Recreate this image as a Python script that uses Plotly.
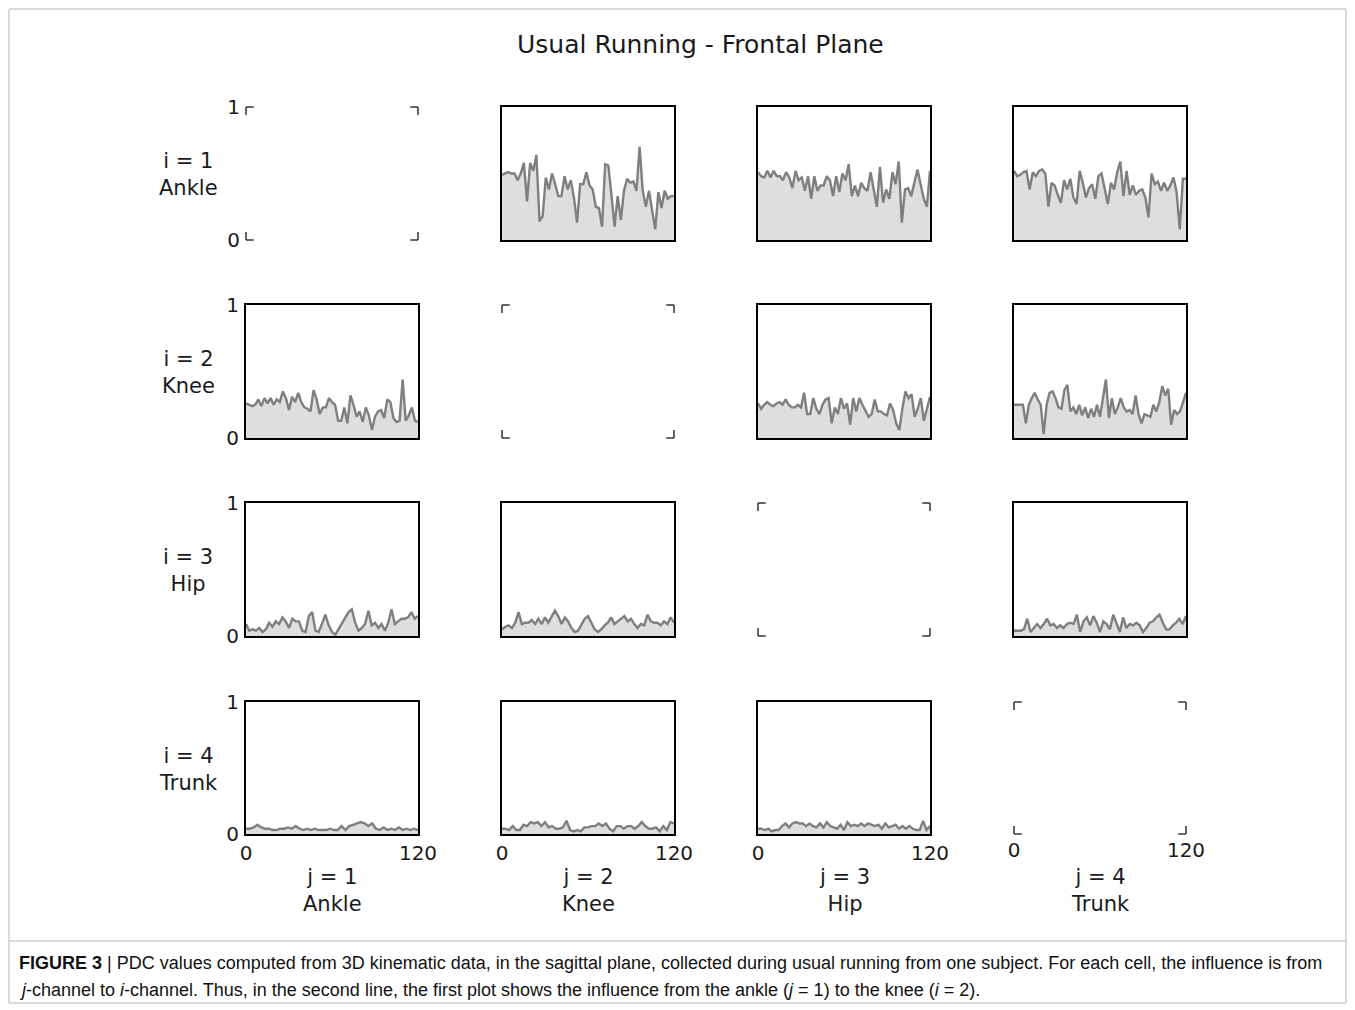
import numpy as np
import plotly.graph_objects as go

# ---------------- data (PDC magnitude, influence from channel j to channel i) ----------------
channels = ["Ankle", "Knee", "Hip", "Trunk"]
freq_ticks = [0, 120]
pdc_ticks = [0, 1]

pdc_i1_j2 = [0.49,0.50,0.51,0.50,0.50,0.45,0.50,0.58,0.29,0.58,0.52,0.64,0.14,0.18,0.47,0.38,0.50,0.42,0.33,0.33,
             0.48,0.38,0.45,0.32,0.13,0.42,0.42,0.51,0.41,0.38,0.25,0.24,0.10,0.57,0.56,0.34,0.10,0.33,0.15,0.37,
             0.46,0.43,0.44,0.37,0.70,0.37,0.25,0.37,0.24,0.08,0.36,0.24,0.37,0.31,0.33,0.33]
pdc_i1_j3 = [0.51,0.48,0.47,0.52,0.47,0.52,0.48,0.48,0.45,0.51,0.47,0.39,0.52,0.45,0.47,0.37,0.48,0.31,0.48,0.37,
             0.41,0.41,0.48,0.45,0.33,0.48,0.36,0.50,0.45,0.57,0.33,0.41,0.33,0.43,0.39,0.37,0.51,0.37,0.25,0.55,
             0.28,0.38,0.31,0.51,0.42,0.59,0.13,0.38,0.39,0.33,0.43,0.53,0.42,0.31,0.25,0.52]
pdc_i1_j4 = [0.52,0.48,0.49,0.51,0.52,0.38,0.51,0.48,0.52,0.53,0.50,0.25,0.43,0.41,0.34,0.28,0.45,0.38,0.46,0.32,
             0.27,0.52,0.43,0.32,0.39,0.42,0.31,0.48,0.50,0.37,0.27,0.43,0.38,0.51,0.59,0.33,0.52,0.34,0.41,0.34,
             0.37,0.38,0.32,0.17,0.50,0.42,0.44,0.37,0.43,0.37,0.41,0.47,0.36,0.08,0.46,0.46]
pdc_i2_j1 = [0.26,0.25,0.24,0.25,0.29,0.24,0.30,0.26,0.30,0.25,0.29,0.27,0.35,0.30,0.21,0.31,0.27,0.34,0.27,0.23,
             0.22,0.20,0.36,0.29,0.18,0.23,0.23,0.30,0.27,0.25,0.13,0.13,0.23,0.11,0.32,0.25,0.16,0.20,0.12,0.23,
             0.17,0.06,0.16,0.20,0.21,0.15,0.29,0.27,0.15,0.12,0.13,0.44,0.13,0.17,0.23,0.13,0.12]
pdc_i2_j3 = [0.26,0.22,0.25,0.27,0.25,0.24,0.26,0.27,0.25,0.29,0.25,0.23,0.23,0.25,0.23,0.34,0.18,0.18,0.30,0.22,
             0.18,0.25,0.29,0.30,0.11,0.23,0.18,0.30,0.22,0.26,0.10,0.30,0.20,0.30,0.25,0.21,0.16,0.18,0.29,0.20,
             0.20,0.18,0.17,0.26,0.21,0.11,0.06,0.22,0.35,0.30,0.33,0.16,0.22,0.30,0.13,0.22,0.31]
pdc_i2_j4 = [0.25,0.25,0.25,0.25,0.11,0.25,0.30,0.34,0.29,0.25,0.03,0.25,0.34,0.35,0.30,0.23,0.22,0.36,0.40,0.20,
             0.23,0.18,0.25,0.17,0.23,0.15,0.22,0.16,0.25,0.16,0.30,0.44,0.15,0.30,0.18,0.23,0.30,0.23,0.20,0.21,
             0.18,0.32,0.18,0.11,0.18,0.17,0.16,0.25,0.20,0.27,0.39,0.32,0.37,0.10,0.21,0.18,0.20,0.27,0.34]
pdc_i3_j1 = [0.09,0.04,0.05,0.04,0.06,0.03,0.05,0.10,0.07,0.11,0.09,0.14,0.11,0.06,0.13,0.11,0.11,0.04,0.03,0.15,
             0.18,0.04,0.03,0.09,0.16,0.08,0.03,0.01,0.05,0.09,0.14,0.18,0.20,0.10,0.04,0.06,0.09,0.19,0.08,0.10,
             0.06,0.09,0.04,0.10,0.20,0.09,0.11,0.13,0.13,0.14,0.18,0.13,0.15]
pdc_i3_j2 = [0.05,0.07,0.08,0.06,0.10,0.18,0.09,0.10,0.10,0.12,0.09,0.13,0.09,0.14,0.10,0.15,0.19,0.15,0.09,0.14,
             0.11,0.06,0.03,0.04,0.09,0.13,0.15,0.10,0.05,0.03,0.05,0.08,0.10,0.14,0.09,0.11,0.13,0.15,0.11,0.13,
             0.09,0.06,0.09,0.08,0.16,0.11,0.10,0.10,0.08,0.11,0.09,0.14,0.10]
pdc_i3_j4 = [0.04,0.04,0.04,0.05,0.13,0.03,0.06,0.09,0.06,0.09,0.13,0.08,0.09,0.06,0.08,0.06,0.09,0.10,0.09,0.16,
             0.03,0.11,0.14,0.08,0.15,0.10,0.03,0.11,0.09,0.05,0.16,0.09,0.03,0.14,0.06,0.09,0.08,0.10,0.08,0.03,
             0.06,0.10,0.11,0.14,0.16,0.10,0.05,0.05,0.08,0.10,0.13,0.09,0.15]
pdc_i4_j1 = [0.04,0.04,0.05,0.07,0.05,0.04,0.04,0.03,0.03,0.04,0.04,0.05,0.04,0.06,0.04,0.03,0.04,0.03,0.04,0.03,
             0.03,0.03,0.04,0.03,0.03,0.06,0.03,0.06,0.07,0.08,0.09,0.08,0.06,0.08,0.04,0.03,0.05,0.03,0.04,0.03,
             0.05,0.03,0.04,0.03,0.04,0.03]
pdc_i4_j2 = [0.04,0.04,0.03,0.06,0.03,0.03,0.07,0.06,0.09,0.08,0.09,0.06,0.09,0.05,0.06,0.04,0.04,0.05,0.10,0.03,
             0.02,0.03,0.02,0.05,0.05,0.06,0.06,0.08,0.06,0.08,0.04,0.02,0.06,0.06,0.04,0.06,0.06,0.04,0.06,0.09,
             0.06,0.04,0.04,0.05,0.02,0.06,0.03,0.09,0.08]
pdc_i4_j3 = [0.04,0.04,0.03,0.04,0.02,0.03,0.03,0.06,0.08,0.05,0.08,0.09,0.08,0.08,0.06,0.08,0.06,0.05,0.08,0.05,
             0.09,0.06,0.05,0.04,0.07,0.03,0.09,0.06,0.07,0.06,0.08,0.06,0.08,0.07,0.06,0.07,0.04,0.08,0.05,0.06,
             0.07,0.04,0.06,0.04,0.06,0.04,0.03,0.03,0.10,0.03,0.06]

pdc = {
    (1, 2): pdc_i1_j2, (1, 3): pdc_i1_j3, (1, 4): pdc_i1_j4,
    (2, 1): pdc_i2_j1, (2, 3): pdc_i2_j3, (2, 4): pdc_i2_j4,
    (3, 1): pdc_i3_j1, (3, 2): pdc_i3_j2, (3, 4): pdc_i3_j4,
    (4, 1): pdc_i4_j1, (4, 2): pdc_i4_j2, (4, 3): pdc_i4_j3,
}

# ---------------- layout geometry (pixels of the 1355 x 1010 page) ----------------
W, H = 1355, 1010
col_px = [(246, 418), (502, 674), (758, 930), (1014, 1186)]
row_px = [(107, 240), (305, 438), (503, 636), (702, 834)]

def px_x(p):
    return p / W

def px_y(p):
    return 1 - p / H

LINE = "#7f7f7f"
FILL = "#dedede"
TXT = "#1a1a1a"
FONT = "DejaVu Sans"

fig = go.Figure()
layout = {}
shapes = []
annotations = []

for i in range(1, 5):
    for j in range(1, 5):
        k = (i - 1) * 4 + j
        xa = "x" if k == 1 else f"x{k}"
        ya = "y" if k == 1 else f"y{k}"
        xkey = "xaxis" if k == 1 else f"xaxis{k}"
        ykey = "yaxis" if k == 1 else f"yaxis{k}"
        diag = (i == j)
        x0, x1 = col_px[j - 1]
        y0, y1 = row_px[i - 1]

        show_xt = (i == 4)
        show_yt = (j == 1)
        layout[xkey] = dict(
            domain=[px_x(x0), px_x(x1)], anchor=ya, range=[0, 120],
            showgrid=False, zeroline=False, automargin=False,
            showline=not diag, mirror=True, linecolor="black", linewidth=2,
            tickmode="array", tickvals=freq_ticks if show_xt else [], ticks="",
            ticklabelstandoff=2 if diag else 0,
            tickfont=dict(family=FONT, size=20, color=TXT), fixedrange=True,
        )
        layout[ykey] = dict(
            domain=[px_y(y1), px_y(y0)], anchor=xa, range=[0, 1],
            showgrid=False, zeroline=False, automargin=False,
            showline=not diag, mirror=True, linecolor="black", linewidth=2,
            tickmode="array", tickvals=pdc_ticks if show_yt else [], ticks="",
            ticklabelstandoff=5 if diag else 1,
            tickfont=dict(family=FONT, size=20, color=TXT), fixedrange=True,
        )

        if diag:
            # empty cell: keep the subplot alive, draw only corner brackets
            fig.add_trace(go.Scatter(x=[None], y=[None], xaxis=xa, yaxis=ya, mode="lines",
                                     showlegend=False, hoverinfo="skip"))
            lx, ly = 0.045, 0.06
            xr, yr = f"{xa} domain", f"{ya} domain"
            for (cx, cy, dx, dy) in [(0, 1, lx, -ly), (1, 1, -lx, -ly), (0, 0, lx, ly), (1, 0, -lx, ly)]:
                shapes.append(dict(type="line", xref=xr, yref=yr, x0=cx, x1=cx + dx, y0=cy, y1=cy,
                                   line=dict(color="#333333", width=1.5)))
                shapes.append(dict(type="line", xref=xr, yref=yr, x0=cx, x1=cx, y0=cy, y1=cy + dy,
                                   line=dict(color="#333333", width=1.5)))
        else:
            vals = pdc[(i, j)]
            fig.add_trace(go.Scatter(
                x=np.linspace(0, 120, len(vals)), y=vals, xaxis=xa, yaxis=ya,
                mode="lines", fill="tozeroy", fillcolor=FILL,
                line=dict(color=LINE, width=2.4), showlegend=False, hoverinfo="skip",
            ))

# row labels
for i in range(1, 5):
    y0, y1 = row_px[i - 1]
    annotations.append(dict(text=f"i = {i}<br>{channels[i - 1]}", x=px_x(188), y=px_y((y0 + y1) / 2 + 1),
                            xref="paper", yref="paper", xanchor="center", yanchor="middle",
                            showarrow=False, align="center",
                            font=dict(family=FONT, size=21, color=TXT)))
# column labels
for j in range(1, 5):
    x0, x1 = col_px[j - 1]
    annotations.append(dict(text=f"j = {j}<br>{channels[j - 1]}", x=px_x((x0 + x1) / 2), y=px_y(890),
                            xref="paper", yref="paper", xanchor="center", yanchor="middle",
                            showarrow=False, align="center",
                            font=dict(family=FONT, size=21, color=TXT)))

# title
annotations.append(dict(text="Usual Running - Frontal Plane", x=px_x(700), y=px_y(44),
                        xref="paper", yref="paper", xanchor="center", yanchor="middle", showarrow=False,
                        font=dict(family=FONT, size=25, color=TXT)))

# caption
CAP = "Liberation Sans"
annotations.append(dict(
    text="<b>FIGURE 3</b> | PDC values computed from 3D kinematic data, in the sagittal plane, collected during usual running from one subject. For each cell, the influence is from",
    x=px_x(17), y=px_y(963), xref="paper", yref="paper", xanchor="left", yanchor="middle", showarrow=False,
    font=dict(family=CAP, size=18, color="#111111")))
annotations.append(dict(
    text="<i>j</i>-channel to <i>i</i>-channel. Thus, in the second line, the first plot shows the influence from the ankle (<i>j</i> = 1) to the knee (<i>i</i> = 2).",
    x=px_x(17), y=px_y(990), xref="paper", yref="paper", xanchor="left", yanchor="middle", showarrow=False,
    font=dict(family=CAP, size=18, color="#111111")))

# page frame and caption separator
shapes.append(dict(type="rect", xref="paper", yref="paper", x0=px_x(9), x1=px_x(1346), y0=px_y(1003), y1=px_y(9),
                   line=dict(color="#b5b5b5", width=1)))
shapes.append(dict(type="line", xref="paper", yref="paper", x0=px_x(9), x1=px_x(1346), y0=px_y(941), y1=px_y(941),
                   line=dict(color="#b5b5b5", width=1)))

fig.update_layout(
    width=W, height=H, margin=dict(l=0, r=0, t=0, b=0, pad=0, autoexpand=False),
    paper_bgcolor="white", plot_bgcolor="white",
    shapes=shapes, annotations=annotations, showlegend=False,
    **layout,
)

fig.write_html(
    "out.html",
    config={"displayModeBar": False},
    post_script="document.body.style.margin='0';document.body.style.overflow='hidden';",
)
